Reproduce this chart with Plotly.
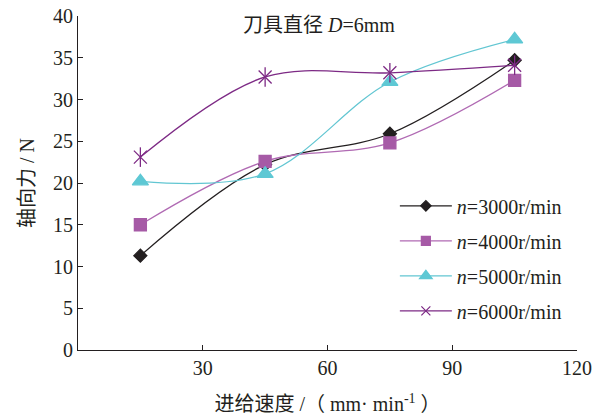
import plotly.graph_objects as go

feed = [15, 45, 75, 105]
n3000 = [11.3, 22.2, 25.9, 34.7]
n4000 = [15.0, 22.6, 24.8, 32.3]
n5000 = [20.2, 21.1, 32.1, 37.2]
n6000 = [23.1, 32.7, 33.2, 34.1]

x_ticks = [30, 60, 90, 120]
y_ticks = [0, 5, 10, 15, 20, 25, 30, 35, 40]

FONT = "'Times New Roman', 'Liberation Serif', 'Noto Sans CJK SC', serif"

fig = go.Figure()

series = [
    ("<i>n</i>=3000r/min", n3000, "#231f20", "#231f20", "diamond", 10, 8),
    ("<i>n</i>=4000r/min", n4000, "#b06ab3", "#a65aa6", "square", 12, 9),
    ("<i>n</i>=5000r/min", n5000, "#62c6d2", "#5ec8d4", "triangle-up", 14, 11),
    ("<i>n</i>=6000r/min", n6000, "#7d2a85", "#7d2a85", "x-thin-open", 13, 9),
]

for i, (name, vals, lc, mc, sym, sz, lsz) in enumerate(series):
    fig.add_trace(go.Scatter(
        x=feed, y=vals, name=name, mode="lines+markers", showlegend=False,
        line=dict(color=lc, width=1.3, shape="spline", smoothing=1),
        marker=dict(symbol=sym, size=sz, color=mc,
                    line=dict(color=mc, width=1.3)),
        legendgroup=f"g{i}",
    ))
    # legend entry with smaller symbol
    fig.add_trace(go.Scatter(
        x=[None], y=[None], name=name, mode="lines+markers",
        line=dict(color=lc, width=1.3),
        marker=dict(symbol=sym, size=lsz, color=mc,
                    line=dict(color=mc, width=1.2)),
        legendgroup=f"g{i}",
    ))

# vertical strokes completing the asterisk markers of n=6000
fig.add_trace(go.Scatter(
    x=feed, y=n6000, mode="markers", showlegend=False, legendgroup="g3",
    marker=dict(symbol="line-ns-open", size=14, color="#7d2a85",
                line=dict(color="#7d2a85", width=1.3)),
    hoverinfo="skip",
))

fig.update_layout(
    width=598, height=415, autosize=False,
    margin=dict(l=78, r=21, t=16, b=65, autoexpand=False),
    paper_bgcolor="white", plot_bgcolor="white",
    font=dict(family=FONT, size=16, color="#231f20"),
    showlegend=True,
    legend=dict(x=0.635, y=0.49, xanchor="left", yanchor="top",
                bgcolor="rgba(0,0,0,0)", tracegroupgap=6, itemwidth=52,
                font=dict(family=FONT, size=20, color="#231f20")),
    annotations=[dict(
        text="刀具直径 <i>D</i>=6mm", x=0.483, y=0.974, xref="paper", yref="paper",
        xanchor="center", yanchor="middle", showarrow=False,
        font=dict(family=FONT, size=20, color="#231f20"),
    )],
)

fig.update_xaxes(
    range=[0, 120], tickvals=x_ticks, ticks="inside", ticklen=5,
    tickcolor="#231f20", showline=True, linecolor="#231f20", linewidth=1,
    showgrid=False, zeroline=False, automargin=False,
    title=dict(text="进给速度 /（ mm· min<sup>-1</sup> ）", standoff=19,
               font=dict(family=FONT, size=20)),
    tickfont=dict(family=FONT, size=20),
)
fig.update_yaxes(
    range=[0, 40], tickvals=y_ticks, ticks="inside", ticklen=5,
    tickcolor="#231f20", showline=True, linecolor="#231f20", linewidth=1,
    showgrid=False, zeroline=False, automargin=False,
    title=dict(text="轴向力 / N", standoff=13,
               font=dict(family=FONT, size=20)),
    tickfont=dict(family=FONT, size=20),
)

fig.write_html("out.html", config={"displayModeBar": False},
               post_script="document.body.style.margin='0';document.body.style.overflow='hidden';")
